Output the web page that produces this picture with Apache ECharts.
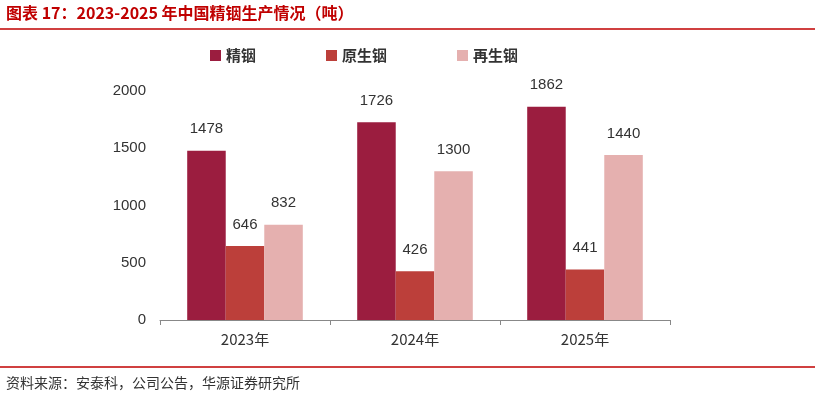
<!DOCTYPE html>
<html><head><meta charset="utf-8">
<script src="https://cdn.jsdelivr.net/npm/echarts@6/dist/echarts.min.js"></script>
<style>body{margin:0}#c{width:815px;height:403px}</style></head>
<body><div id="c"></div>
<script>
const categories=['2023年','2024年','2025年'];
const seriesNames=['精铟','原生铟','再生铟'];
const jingYin=[1478,1726,1862];
const yuanSheng=[646,426,441];
const zaiSheng=[832,1300,1440];
const colors=['#9B1D3F','#BC3F3A','#E5B0AF'];
const chart=echarts.init(document.getElementById('c'));
const font='"Noto Sans CJK SC", sans-serif';
const mk=(name,data,i)=>({name,type:'bar',data,barGap:'0%',barCategoryGap:'32%',itemStyle:{color:colors[i]},
 label:{show:true,position:'top',distance:14,color:'#333',fontSize:15,fontFamily:'Arial, Liberation Sans'}});
chart.setOption({
 animation:false,
 graphic:[
  {type:'text',left:6,top:5,style:{text:'图表 17：2023-2025 年中国精铟生产情况（吨）',fill:'#C00000',font:'bold 16px "Noto Sans CJK SC"'}},
  {type:'line',shape:{x1:0,y1:29,x2:815,y2:29},style:{stroke:'#C00000',lineWidth:1.5}},
  {type:'line',shape:{x1:0,y1:367,x2:815,y2:367},style:{stroke:'#C00000',lineWidth:1.5}},
  {type:'text',left:6,top:376,style:{text:'资料来源：安泰科，公司公告，华源证券研究所',fill:'#333',font:'14px "Noto Sans CJK SC"'}}
 ],
 legend:{top:43,left:205,itemGap:70,itemWidth:11,itemHeight:11,icon:'rect',
  textStyle:{fontSize:15,fontWeight:'bold',color:'#333',fontFamily:font},data:seriesNames},
 grid:{left:160,right:145,top:91,bottom:83},
 xAxis:{type:'category',data:categories,axisTick:{show:true,alignWithLabel:false,length:5,lineStyle:{color:'#888'}},
  axisLine:{lineStyle:{color:'#888'}},axisLabel:{color:'#333',fontSize:15,margin:12,fontFamily:font}},
 yAxis:{type:'value',min:0,max:2000,interval:500,splitLine:{show:false},axisLine:{show:false},axisTick:{show:false},
  axisLabel:{color:'#333',fontSize:15,margin:14,fontFamily:'Arial, Liberation Sans',formatter:v=>String(v)}},
 series:[mk(seriesNames[0],jingYin,0),mk(seriesNames[1],yuanSheng,1),mk(seriesNames[2],zaiSheng,2)]
});
</script></body></html>
